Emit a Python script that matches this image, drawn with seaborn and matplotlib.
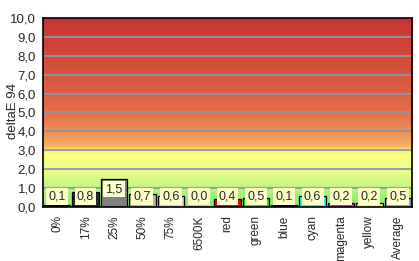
import numpy as np
import pandas as pd
import matplotlib
matplotlib.use("Agg")
import matplotlib.pyplot as plt
import seaborn as sns
from matplotlib.colors import LinearSegmentedColormap
from matplotlib.ticker import FixedLocator

categories = ["0%", "17%", "25%", "50%", "75%", "6500K", "red", "green",
              "blue", "cyan", "magenta", "yellow", "Average"]
values = [0.1, 0.8, 1.5, 0.7, 0.6, 0.0, 0.4, 0.5, 0.1, 0.6, 0.2, 0.2, 0.5]
value_labels = ["0,1", "0,8", "1,5", "0,7", "0,6", "0,0", "0,4", "0,5",
                "0,1", "0,6", "0,2", "0,2", "0,5"]
bar_colors = ["#1a1a1a", "#2a2a2a", "#808080", "#b4b4b4", "#d0d0d0", "#ffffff",
              "#ff0000", "#00ff00", "#000080", "#00ffff", "#ff00ff", "#ffff00",
              "#9999ff"]
y_ticks = [0, 1, 2, 3, 4, 5, 6, 7, 8, 9, 10]
y_tick_labels = ["0,0", "1,0", "2,0", "3,0", "4,0", "5,0", "6,0", "7,0",
                 "8,0", "9,0", "10,0"]

df = pd.DataFrame({"cat": categories, "val": values})

sns.set_style("white")
plt.rcParams["font.family"] = ["Liberation Sans", "DejaVu Sans"]

fig = plt.figure(figsize=(4.19, 2.61), dpi=100)
ax = fig.add_axes([43 / 419, 1 - 207 / 261, (412 - 43) / 419, (207 - 18) / 261])

# background gradient
stops = [(0.00, (0.53, 0.93, 0.40)),
         (0.05, (0.60, 0.94, 0.45)),
         (0.12, (0.80, 0.97, 0.52)),
         (0.20, (0.94, 0.99, 0.55)),
         (0.27, (1.00, 1.00, 0.50)),
         (0.30, (1.00, 0.93, 0.45)),
         (0.32, (0.96, 0.70, 0.40)),
         (0.40, (0.93, 0.56, 0.33)),
         (0.50, (0.89, 0.44, 0.29)),
         (0.70, (0.84, 0.33, 0.24)),
         (1.00, (0.78, 0.20, 0.20))]
cmap = LinearSegmentedColormap.from_list("bg", stops)
grad = np.linspace(0, 1, 400).reshape(-1, 1)
n = len(categories)
ax.imshow(grad, cmap=cmap, origin="lower", aspect="auto",
          extent=[-0.5, n - 0.5, 0, 10], zorder=0, interpolation="bilinear")

for y in y_ticks[1:-1]:
    ax.axhline(y, color="#8a98a8", lw=1.3, zorder=1)

sns.barplot(data=df, x="cat", y="val", hue="cat", palette=bar_colors,
            legend=False, width=0.93, edgecolor="black", linewidth=0.9,
            ax=ax, zorder=2, saturation=1)

for i, (v, lab) in enumerate(zip(values, value_labels)):
    ly = max(v - 0.55, 0.56)
    ax.text(i, ly, lab, ha="center", va="center", fontsize=9, zorder=4,
            bbox=dict(boxstyle="square,pad=0.18", fc="#ffffcc", ec="none"))

ax.set_xlim(-0.5, n - 0.5)
ax.set_ylim(0, 10)
ax.set_yticks(y_ticks)
ax.set_yticklabels(y_tick_labels, fontsize=9.5)
ax.set_xticks(range(n))
ax.set_xticklabels(categories, rotation=90, fontsize=8.5)
ax.xaxis.set_minor_locator(FixedLocator(np.arange(-0.5, n, 1.0)))
ax.tick_params(axis="x", which="major", length=0, pad=6)
ax.tick_params(axis="x", which="minor", length=5, width=1, color="black", direction="out")
ax.tick_params(axis="y", length=4, width=1, color="black", direction="out", pad=1)
ax.set_xlabel("")
ax.set_ylabel("deltaE 94", fontsize=9.5)
ax.yaxis.set_label_coords(-0.064, 0.51)
for s in ax.spines.values():
    s.set_visible(True)
    s.set_color("black")
    s.set_linewidth(1.2)

fig.savefig("out.png", dpi=100)
